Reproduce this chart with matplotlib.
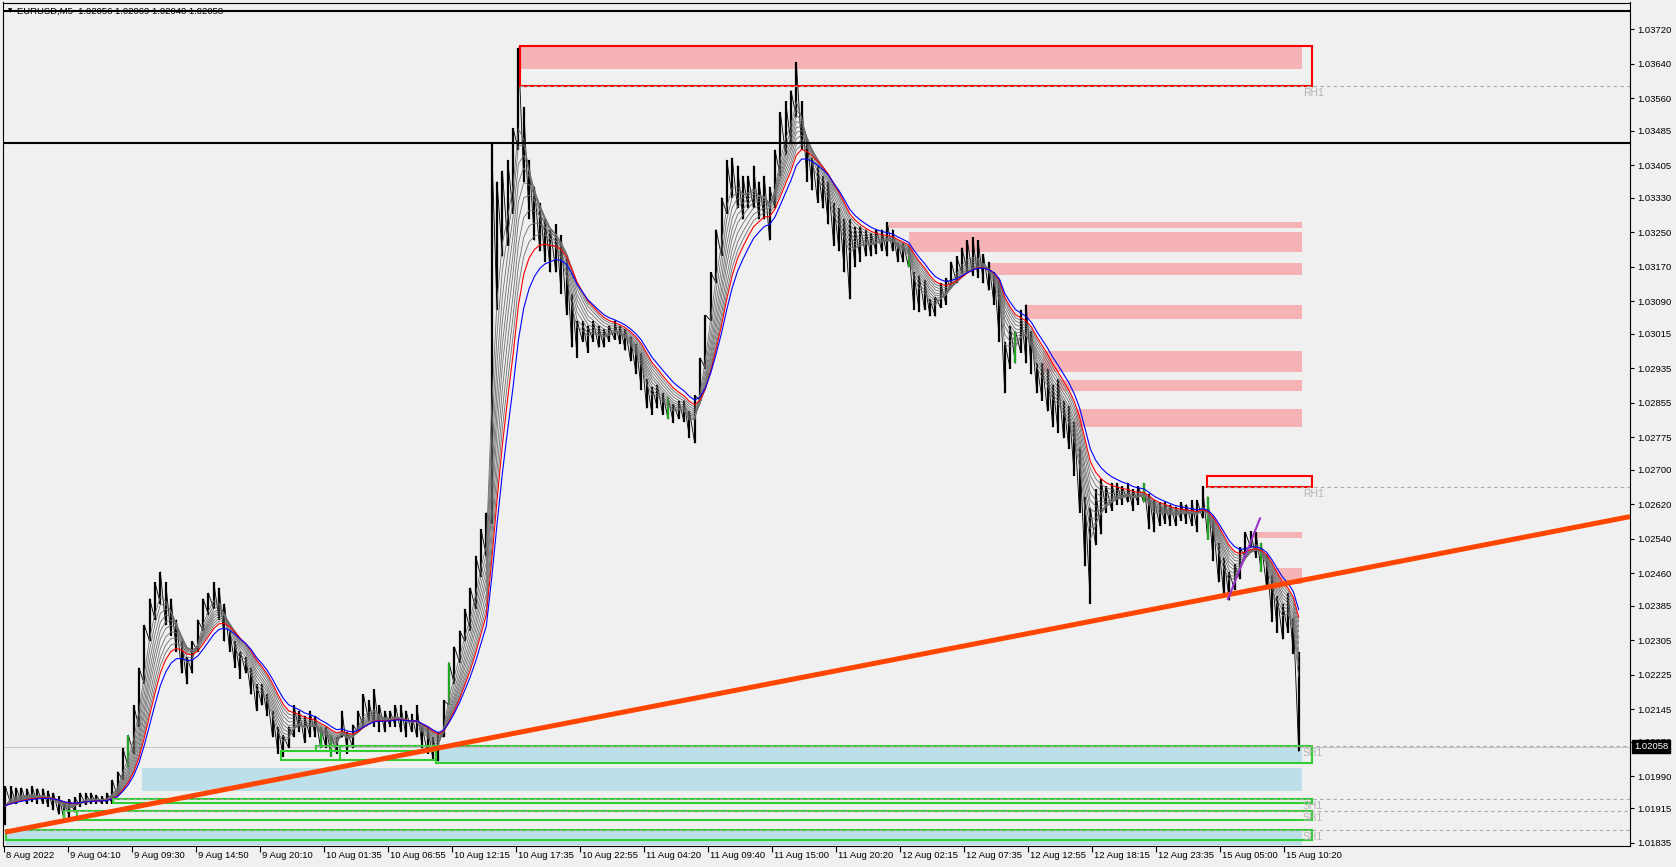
import matplotlib

matplotlib.use("Agg")
import matplotlib.pyplot as plt
import numpy as np
from matplotlib.patches import Rectangle

plt.rcParams.update({
    "font.family": ["Liberation Sans", "DejaVu Sans"],
    "font.size": 6.8,
})

BG = "#f0f0f0"
PINK = "#f5b3b5"
LBLUE = "#bddfe9"
GREEN = "#32cd32"
GREY_LVL = "#a8a8a8"

# EURUSD M5, one sample every ~5.3 bars (x = bar index from the left edge)
T0 = 1.34
STEP = 5.3445

HIGH = [
    1.01966, 1.01966, 1.01963, 1.01963, 1.01961, 1.01966, 1.01961, 1.01961, 1.01956, 1.01951,
    1.01943, 1.01931, 1.01936, 1.01941, 1.01951, 1.01951, 1.01951, 1.01946, 1.01943, 1.01951,
    1.01981, 1.02000, 1.02055, 1.02085, 1.02154, 1.02241, 1.02340, 1.02401, 1.02439, 1.02463,
    1.02439, 1.02401, 1.02352, 1.02302, 1.02265, 1.02302, 1.02352, 1.02401, 1.02414, 1.02439,
    1.02426, 1.02389, 1.02327, 1.02302, 1.02278, 1.02265, 1.02241, 1.02203, 1.02203, 1.02179,
    1.02141, 1.02104, 1.02085, 1.02104, 1.02154, 1.02141, 1.02129, 1.02141, 1.02129, 1.02104,
    1.02104, 1.02085, 1.02080, 1.02141, 1.02092, 1.02109, 1.02141, 1.02179, 1.02166, 1.02191,
    1.02154, 1.02141, 1.02141, 1.02154, 1.02154, 1.02141, 1.02134, 1.02154, 1.02104, 1.02104,
    1.02080, 1.02092, 1.02166, 1.02253, 1.02290, 1.02327, 1.02377, 1.02426, 1.02500, 1.02562,
    1.02600, 1.03454, 1.03367, 1.03392, 1.03417, 1.03491, 1.03677, 1.03540, 1.03417, 1.03355,
    1.03318, 1.03280, 1.03256, 1.03268, 1.03243, 1.03194, 1.03107, 1.03045, 1.03045, 1.03033,
    1.03045, 1.03033, 1.03025, 1.03033, 1.03045, 1.03033, 1.03025, 1.03008, 1.02991, 1.02971,
    1.02909, 1.02892, 1.02897, 1.02877, 1.02867, 1.02852, 1.02860, 1.02860, 1.02835, 1.02872,
    1.02959, 1.03058, 1.03157, 1.03256, 1.03330, 1.03417, 1.03422, 1.03404, 1.03380, 1.03380,
    1.03404, 1.03367, 1.03380, 1.03355, 1.03441, 1.03528, 1.03553, 1.03578, 1.03644, 1.03553,
    1.03466, 1.03422, 1.03404, 1.03380, 1.03367, 1.03318, 1.03305, 1.03280, 1.03280, 1.03263,
    1.03263, 1.03256, 1.03248, 1.03256, 1.03256, 1.03273, 1.03256, 1.03224, 1.03224, 1.03219,
    1.03157, 1.03149, 1.03139, 1.03095, 1.03100, 1.03132, 1.03144, 1.03181, 1.03194, 1.03214,
    1.03231, 1.03238, 1.03231, 1.03199, 1.03181, 1.03157, 1.03139, 1.02996, 1.03033, 1.03020,
    1.03070, 1.03082, 1.03020, 1.02946, 1.02946, 1.02934, 1.02897, 1.02909, 1.02860, 1.02847,
    1.02810, 1.02748, 1.02637, 1.02612, 1.02654, 1.02679, 1.02661, 1.02669, 1.02669, 1.02661,
    1.02669, 1.02654, 1.02661, 1.02669, 1.02644, 1.02629, 1.02624, 1.02624, 1.02619, 1.02614,
    1.02624, 1.02619, 1.02629, 1.02629, 1.02661, 1.02637, 1.02580, 1.02530, 1.02496, 1.02463,
    1.02481, 1.02520, 1.02555, 1.02557, 1.02555, 1.02530, 1.02501, 1.02456, 1.02406, 1.02389,
    1.02414, 1.02357, 1.02278,
]
LOW = [
    1.01877, 1.01926, 1.01926, 1.01931, 1.01926, 1.01931, 1.01926, 1.01926, 1.01919, 1.01911,
    1.01901, 1.01889, 1.01894, 1.01906, 1.01919, 1.01924, 1.01926, 1.01926, 1.01926, 1.01926,
    1.01926, 1.01943, 1.01981, 1.02010, 1.02042, 1.02104, 1.02203, 1.02302, 1.02352, 1.02389,
    1.02340, 1.02315, 1.02278, 1.02228, 1.02203, 1.02228, 1.02278, 1.02327, 1.02364, 1.02377,
    1.02352, 1.02302, 1.02278, 1.02241, 1.02216, 1.02228, 1.02179, 1.02141, 1.02154, 1.02129,
    1.02080, 1.02042, 1.02035, 1.02055, 1.02080, 1.02092, 1.02067, 1.02080, 1.02080, 1.02055,
    1.02055, 1.02035, 1.02042, 1.02080, 1.02042, 1.02055, 1.02092, 1.02104, 1.02117, 1.02104,
    1.02092, 1.02092, 1.02104, 1.02104, 1.02092, 1.02080, 1.02092, 1.02080, 1.02055, 1.02042,
    1.02030, 1.02025, 1.02080, 1.02154, 1.02203, 1.02253, 1.02302, 1.02327, 1.02377, 1.02451,
    1.02500, 1.02575, 1.03070, 1.03194, 1.03219, 1.03293, 1.03441, 1.03367, 1.03280, 1.03231,
    1.03206, 1.03181, 1.03157, 1.03157, 1.03107, 1.03058, 1.02983, 1.02959, 1.02996, 1.02971,
    1.02996, 1.02983, 1.02983, 1.02996, 1.03001, 1.02991, 1.02976, 1.02951, 1.02921, 1.02884,
    1.02842, 1.02827, 1.02842, 1.02827, 1.02817, 1.02808, 1.02817, 1.02810, 1.02773, 1.02761,
    1.02860, 1.02934, 1.03045, 1.03132, 1.03194, 1.03293, 1.03330, 1.03305, 1.03280, 1.03305,
    1.03305, 1.03280, 1.03280, 1.03231, 1.03305, 1.03380, 1.03429, 1.03454, 1.03516, 1.03441,
    1.03367, 1.03347, 1.03318, 1.03305, 1.03268, 1.03219, 1.03206, 1.03157, 1.03095, 1.03169,
    1.03181, 1.03194, 1.03194, 1.03199, 1.03206, 1.03194, 1.03206, 1.03181, 1.03181, 1.03169,
    1.03070, 1.03065, 1.03070, 1.03055, 1.03055, 1.03075, 1.03082, 1.03120, 1.03132, 1.03154,
    1.03157, 1.03149, 1.03144, 1.03132, 1.03115, 1.03082, 1.02996, 1.02877, 1.02934, 1.02946,
    1.02971, 1.02946, 1.02921, 1.02877, 1.02860, 1.02835, 1.02798, 1.02785, 1.02773, 1.02748,
    1.02686, 1.02600, 1.02476, 1.02389, 1.02525, 1.02550, 1.02600, 1.02605, 1.02619, 1.02619,
    1.02624, 1.02605, 1.02619, 1.02624, 1.02562, 1.02555, 1.02570, 1.02575, 1.02570, 1.02570,
    1.02582, 1.02575, 1.02570, 1.02555, 1.02587, 1.02538, 1.02488, 1.02439, 1.02406, 1.02397,
    1.02421, 1.02446, 1.02496, 1.02520, 1.02496, 1.02463, 1.02426, 1.02347, 1.02322, 1.02307,
    1.02322, 1.02273, 1.02047,
]
GREEN_BARS = [23, 59, 61, 83, 124, 169, 189, 213, 225, 235]

CURRENT = 1.02058

# EMA ribbon periods (in M5 bars)
RIBBON_GREY = [10, 14, 18, 22, 26, 30, 35, 40, 45]
RIBBON_RED = 50
RIBBON_BLUE = 60

DATE_TICKS = [64 * k for k in range(21)]
DATE_LABELS = [
    "8 Aug 2022", "9 Aug 04:10", "9 Aug 09:30", "9 Aug 14:50", "9 Aug 20:10",
    "10 Aug 01:35", "10 Aug 06:55", "10 Aug 12:15", "10 Aug 17:35", "10 Aug 22:55",
    "11 Aug 04:20", "11 Aug 09:40", "11 Aug 15:00", "11 Aug 20:20", "12 Aug 02:15",
    "12 Aug 07:35", "12 Aug 12:55", "12 Aug 18:15", "12 Aug 23:35", "15 Aug 05:00",
    "15 Aug 10:20",
]
PRICE_TICKS = [
    1.03720, 1.03640, 1.03560, 1.03485, 1.03405, 1.03330, 1.03250, 1.03170, 1.03090,
    1.03015, 1.02935, 1.02855, 1.02775, 1.02700, 1.02620, 1.02540, 1.02460, 1.02385,
    1.02305, 1.02225, 1.02145, 1.02070, 1.01990, 1.01915, 1.01835,
]

# zones: (bar from, bar to, price low, price high)
SUPPLY_ZONES = [
    (516, 1298, 1.03628, 1.03682),
    (885, 1298, 1.03260, 1.03274),
    (905, 1298, 1.03205, 1.03250),
    (986, 1298, 1.03151, 1.03179),
    (1023, 1298, 1.03049, 1.03081),
    (1039, 1298, 1.02926, 1.02975),
    (1053, 1298, 1.02882, 1.02908),
    (1072, 1298, 1.02799, 1.02840),
    (1249, 1298, 1.02542, 1.02556),
    (1268, 1298, 1.02436, 1.02473),
]
RED_BOXES = [
    (516, 1308, 1.03589, 1.03682),
    (1203, 1308, 1.02660, 1.02684),
]
DEMAND_ZONES = [
    (432, 1298, 1.02021, 1.02060),
    (138, 1298, 1.01956, 1.02009),
    (2, 1298, 1.01830, 1.01863),
]
GREEN_BOXES = [
    (432, 1308, 1.02021, 1.02060),
    (277, 336, 1.02027, 1.02049),
    (312, 432, 1.02049, 1.02060),
    (336, 432, 1.02027, 1.02060),
    (109, 1308, 1.01928, 1.01938),
    (60, 73, 1.01888, 1.01909),
    (73, 1308, 1.01888, 1.01909),
    (2, 1308, 1.01841, 1.01865),
]
RH_LEVELS = [(516, 1.03588), (1203, 1.02659)]
SH_LEVELS = [(312, 1.02060), (109, 1.01938), (60, 1.01909), (2, 1.01865)]

TREND_BARS = [1, 1626]
TREND_PRICES = [1.01860, 1.02591]
PURPLE_BARS = [1224, 1256]
PURPLE_PRICES = [1.02400, 1.02587]
BLACK_LEVELS = [1.03762, 1.03456]


def ema(values, period):
    a = 1 - (1 - 2 / (period + 1)) ** STEP
    out = np.empty_like(values)
    out[0] = values[0]
    for i in range(1, len(values)):
        out[i] = out[i - 1] + a * (values[i] - out[i - 1])
    return out


def main():
    W, H = 1676, 867
    fig = plt.figure(figsize=(W / 100, H / 100), dpi=100, facecolor=BG)
    ax = fig.add_axes([2.5 / W, 21 / H, 1627.5 / W, 843.5 / H], facecolor=BG)

    hi = np.array(HIGH)
    lo = np.array(LOW)
    t = T0 + STEP * np.arange(len(hi))
    mid = (hi + lo) / 2

    # zones behind everything
    for x0, x1, p0, p1 in SUPPLY_ZONES:
        ax.add_patch(Rectangle((x0, p0), x1 - x0, p1 - p0, fc=PINK, ec="none", zorder=1))
    for x0, x1, p0, p1 in DEMAND_ZONES:
        ax.add_patch(Rectangle((x0, p0), x1 - x0, p1 - p0, fc=LBLUE, ec="none", zorder=1))

    ax.axhline(CURRENT, color="#c8c8c8", lw=0.8, zorder=1.5)

    # price bars
    zx = np.repeat(t, 2)
    zy = np.column_stack([lo, hi]).ravel()
    ax.plot(zx, zy, color="black", lw=0.6, zorder=2)
    ax.vlines(t, lo, hi, colors="black", lw=1.6, zorder=2)
    g = np.array(GREEN_BARS)
    ax.vlines(t[g], lo[g], hi[g], colors="#22cc22", lw=1.2, zorder=2.1)

    # EMA ribbon
    for p in RIBBON_GREY:
        ax.plot(t, ema(mid, p), color="#6e6e6e", lw=0.6, zorder=3)
    ax.plot(t, ema(mid, RIBBON_RED), color="#ff0000", lw=0.8, zorder=3.1)
    ax.plot(t, ema(mid, RIBBON_BLUE), color="#0000ff", lw=0.8, zorder=3.2)

    # outlined boxes
    for x0, x1, p0, p1 in RED_BOXES:
        ax.add_patch(Rectangle((x0, p0), x1 - x0, p1 - p0, fill=False,
                               ec="#ff0000", lw=1.5, zorder=4))
    for x0, x1, p0, p1 in GREEN_BOXES:
        ax.add_patch(Rectangle((x0, p0), x1 - x0, p1 - p0, fill=False,
                               ec=GREEN, lw=1.5, zorder=4))

    # level lines + labels
    for x0, lvl in RH_LEVELS:
        ax.hlines(lvl, x0, 1640, colors=GREY_LVL, lw=0.8, linestyles=(0, (3, 3)), zorder=4.5)
        ax.annotate("RH1", (1299, lvl), xytext=(0, -2), textcoords="offset pixels",
                    va="top", ha="left", color="#b4b4b4", fontsize=7.5, zorder=4.5)
    for x0, lvl in SH_LEVELS:
        ax.hlines(lvl, x0, 1640, colors=GREY_LVL, lw=0.8, linestyles=(0, (3, 3)), zorder=4.5)
        ax.annotate("SH1", (1299, lvl), xytext=(0, -2), textcoords="offset pixels",
                    va="top", ha="left", color="#b4b4b4", fontsize=7.5, zorder=4.5)

    # trend lines and horizontal lines
    ax.plot(TREND_BARS, TREND_PRICES, color="#ff4500", lw=3.6, solid_capstyle="butt", zorder=5)
    ax.plot(PURPLE_BARS, PURPLE_PRICES, color="#9932cc", lw=1.5, zorder=5)
    for lvl in BLACK_LEVELS:
        ax.axhline(lvl, color="black", lw=1.5, zorder=5)

    ax.set_xlim(-1.5, 1626)
    ax.set_ylim(1.01828, 1.03782)

    # price axis on the right
    ax.yaxis.tick_right()
    ax.set_yticks(PRICE_TICKS)
    ax.set_yticklabels([f"{p:.5f}" for p in PRICE_TICKS])
    ax.tick_params(axis="y", length=3, width=0.8, pad=2, labelsize=6.8)

    # time axis
    ax.set_xticks(DATE_TICKS)
    ax.set_xticklabels([])
    ax.tick_params(axis="x", length=4, width=0.8)
    for x, lab in zip(DATE_TICKS, DATE_LABELS):
        ax.annotate(lab, (x, 0), xycoords=("data", "axes fraction"), xytext=(2, -5),
                    textcoords="offset pixels", ha="left", va="top", fontsize=6.8,
                    annotation_clip=False)

    for s in ax.spines.values():
        s.set_color("black")
        s.set_linewidth(0.8)

    ax.annotate(f"{CURRENT:.5f}", (1, CURRENT), xycoords=("axes fraction", "data"),
                xytext=(4, 0), textcoords="offset pixels", ha="left", va="center",
                color="white", fontsize=6.8, annotation_clip=False, zorder=10,
                bbox=dict(boxstyle="square,pad=0.2", fc="black", ec="black"))

    fig.text(8 / W, 1 - 11 / H, "\u25bc", fontsize=4, va="center", family="DejaVu Sans")
    fig.text(17 / W, 1 - 11 / H, "EURUSD,M5  1.02056 1.02069 1.02048 1.02058",
             fontsize=6.8, va="center")

    fig.savefig("out.png", dpi=100, facecolor=BG)
    plt.close(fig)


if __name__ == "__main__":
    main()
